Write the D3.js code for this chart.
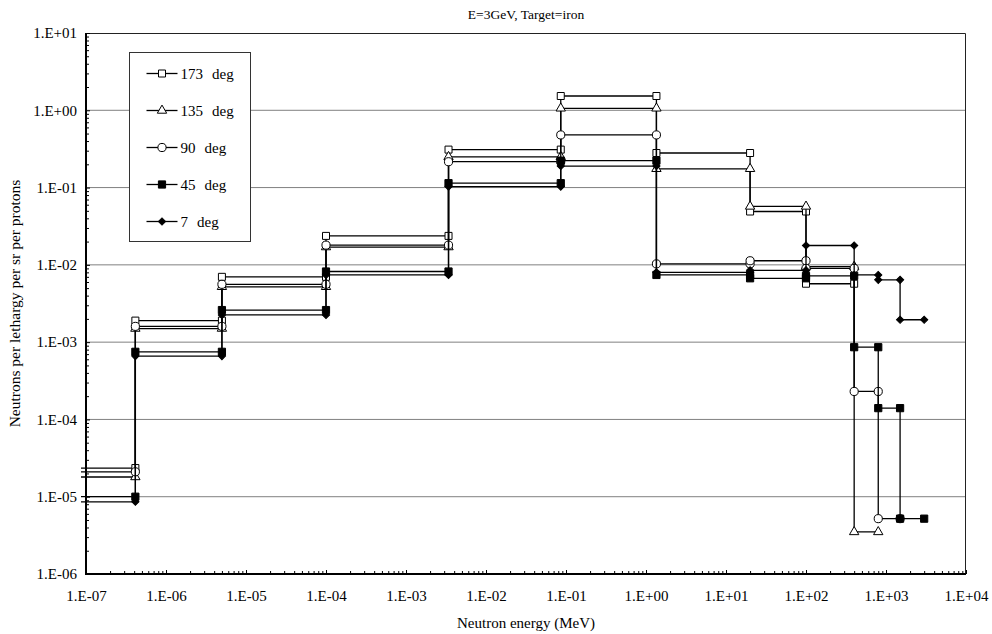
<!DOCTYPE html>
<html>
<head>
<meta charset="utf-8">
<script src="https://cdn.jsdelivr.net/npm/d3@7"></script>
<style>
  body { margin: 0; background: #fff; }
  svg text { font-family: "Liberation Serif", serif; fill: #000; }
</style>
</head>
<body>
<div class="canvas"></div>
<script>
// bin edges (MeV), first edge lies left of the axis and is clipped
const edges = [1e-8, 4.14e-7, 5e-6, 1e-4, 3.4e-3, 8.6e-2, 1.35, 20, 100, 400, 800, 1500, 3000];

// value per bin, neutrons per lethargy per sr per proton
const deg173 = [2.35e-5, 1.9e-3, 7.0e-3, 2.37e-2, 0.31, 1.53, 0.28, 0.049, 5.7e-3];
const deg135 = [1.8e-5, 1.5e-3, 5.2e-3, 1.7e-2, 0.25, 1.06, 0.175, 0.057, 9.5e-3, 3.5e-6];
const deg90 = [2.1e-5, 1.6e-3, 5.6e-3, 1.8e-2, 0.216, 0.48, 0.0103, 0.0113, 9.0e-3, 2.3e-4, 5.2e-6];
const deg45 = [1.0e-5, 7.5e-4, 2.6e-3, 8.2e-3, 0.114, 0.223, 7.4e-3, 6.7e-3, 7.2e-3, 8.6e-4, 1.4e-4, 5.2e-6];
const deg7 = [8.6e-6, 6.6e-4, 2.25e-3, 7.4e-3, 0.103, 0.19, 8.0e-3, 8.5e-3, 0.0178, 7.4e-3, 6.4e-3, 1.95e-3];

const seriesNames = ['173', '135', '90', '45', '7'];
const seriesValues = [deg173, deg135, deg90, deg45, deg7];

const xTicks = [1e-7, 1e-6, 1e-5, 1e-4, 1e-3, 1e-2, 1e-1, 1e0, 1e1, 1e2, 1e3, 1e4];
const yTicks = [1e-6, 1e-5, 1e-4, 1e-3, 1e-2, 1e-1, 1e0, 1e1];

const width = 992, height = 634;
const margin = {top: 33, right: 26, bottom: 60, left: 86};
const graphWidth = width - margin.left - margin.right;
const graphHeight = height - margin.top - margin.bottom;
const serif = '"Liberation Serif", "DejaVu Serif", serif';

const svg = d3.select('.canvas')
  .append('svg')
  .attr('width', width)
  .attr('height', height)
  .attr('font-family', serif);

const graph = svg.append('g')
  .attr('transform', `translate(${margin.left}, ${margin.top})`);

const x = d3.scaleLog().domain([1e-7, 1e4]).range([0, graphWidth]);
const y = d3.scaleLog().domain([1e-6, 1e1]).range([graphHeight, 0]);

const fmt = d => {
  const e = Math.round(Math.log10(d));
  return '1.E' + (e < 0 ? '-' : '+') + String(Math.abs(e)).padStart(2, '0');
};

const minors = dom => {
  const out = [];
  for (let e = Math.log10(dom[0]); e < Math.log10(dom[1]); e++) {
    for (let k = 2; k <= 9; k++) out.push(k * Math.pow(10, e));
  }
  return out;
};

// gridlines
graph.append('g')
  .selectAll('line')
  .data(yTicks.slice(1, -1))
  .enter().append('line')
  .attr('x1', 0).attr('x2', graphWidth)
  .attr('y1', d => y(d)).attr('y2', d => y(d))
  .attr('stroke', '#808080')
  .attr('stroke-width', 1);

// frame top / right
graph.append('path')
  .attr('d', `M0,0.5H${graphWidth - 0.5}V${graphHeight}`)
  .attr('fill', 'none')
  .attr('stroke', '#222')
  .attr('stroke-width', 1);

// series
graph.append('clipPath').attr('id', 'clip')
  .append('rect')
  .attr('x', -5).attr('y', -2)
  .attr('width', graphWidth + 5).attr('height', graphHeight + 4);

const shapes = [
  {sym: d3.symbolSquare, size: 49, fill: '#fff', rot: 0},
  {sym: d3.symbolTriangle, size: 38, fill: '#fff', rot: 0},
  {sym: d3.symbolCircle, size: 52, fill: '#fff', rot: 0},
  {sym: d3.symbolSquare, size: 52, fill: '#000', rot: 0},
  {sym: d3.symbolSquare, size: 26, fill: '#000', rot: 45}
];

const line = d3.line().x(d => x(d[0])).y(d => y(d[1]));

const plotArea = graph.append('g').attr('clip-path', 'url(#clip)');

seriesValues.forEach((vals, s) => {
  const pts = [];
  vals.forEach((v, i) => {
    pts.push([edges[i], v]);
    pts.push([edges[i + 1], v]);
  });
  const g = plotArea.append('g');
  g.append('path')
    .attr('d', line(pts))
    .attr('fill', 'none')
    .attr('stroke', '#000')
    .attr('stroke-width', 1.3);
  const sh = shapes[s];
  g.selectAll('path.m')
    .data(pts)
    .enter().append('path')
    .attr('class', 'm')
    .attr('d', d3.symbol().type(sh.sym).size(sh.size))
    .attr('transform', d => `translate(${x(d[0])},${y(d[1])}) rotate(${sh.rot})`)
    .attr('fill', sh.fill)
    .attr('stroke', '#000')
    .attr('stroke-width', 1);
});

// axes
const xAxisGroup = graph.append('g').attr('transform', `translate(0, ${graphHeight})`);
xAxisGroup.call(d3.axisTop(x).tickValues(minors(x.domain())).tickSize(3).tickFormat(''));
xAxisGroup.call(g => g.append('g').call(d3.axisTop(x).tickValues(xTicks).tickSize(4).tickFormat('')));
xAxisGroup.selectAll('.domain').remove();
xAxisGroup.selectAll('line').attr('stroke', '#000');

const xLabels = graph.append('g').attr('transform', `translate(0, ${graphHeight})`)
  .call(d3.axisBottom(x).tickValues(xTicks).tickSize(0).tickPadding(0).tickFormat(fmt));
xLabels.attr('font-family', serif).attr('font-size', 15);
xLabels.selectAll('.domain').remove();
xLabels.selectAll('text')
  .attr('y', 27).attr('dy', null);

const yAxisGroup = graph.append('g');
yAxisGroup.call(d3.axisRight(y).tickValues(minors(y.domain())).tickSize(3).tickFormat(''));
yAxisGroup.call(g => g.append('g').call(d3.axisRight(y).tickValues(yTicks).tickSize(4).tickFormat('')));
yAxisGroup.selectAll('.domain').remove();
yAxisGroup.selectAll('line').attr('stroke', '#000');

const yLabels = graph.append('g')
  .call(d3.axisLeft(y).tickValues(yTicks).tickSize(0).tickPadding(9).tickFormat(fmt));
yLabels.attr('font-family', serif).attr('font-size', 15);
yLabels.selectAll('.domain').remove();

// axis lines
graph.append('path')
  .attr('d', `M0,0V${graphHeight}H${graphWidth}`)
  .attr('fill', 'none')
  .attr('stroke', '#000')
  .attr('stroke-width', 2);

// titles
svg.append('text')
  .attr('x', margin.left + graphWidth / 2).attr('y', 19)
  .attr('text-anchor', 'middle')
  .attr('font-size', 13.5)
  .text('E=3GeV, Target=iron');

svg.append('text')
  .attr('x', margin.left + graphWidth / 2).attr('y', 628)
  .attr('text-anchor', 'middle')
  .attr('font-size', 15)
  .text('Neutron energy (MeV)');

svg.append('text')
  .attr('transform', `translate(20, ${margin.top + graphHeight / 2}) rotate(-90)`)
  .attr('text-anchor', 'middle')
  .attr('font-size', 15.5)
  .text('Neutrons per lethargy per sr per protons');

// legend
const legend = svg.append('g').attr('transform', 'translate(129.5, 52.5)');
legend.append('rect')
  .attr('width', 121).attr('height', 189)
  .attr('fill', '#fff')
  .attr('stroke', '#333')
  .attr('stroke-width', 1);

seriesNames.forEach((name, s) => {
  const row = legend.append('g').attr('transform', `translate(0, ${21 + s * 37})`);
  row.append('line')
    .attr('x1', 17).attr('x2', 48)
    .attr('stroke', '#000').attr('stroke-width', 1.3);
  const sh = shapes[s];
  row.append('path')
    .attr('d', d3.symbol().type(sh.sym).size(sh.size))
    .attr('transform', `translate(32.5,0) rotate(${sh.rot})`)
    .attr('fill', sh.fill)
    .attr('stroke', '#000');
  const t = row.append('text')
    .attr('x', 51).attr('y', 5)
    .attr('font-size', 15);
  t.append('tspan').text(name);
  t.append('tspan').attr('dx', 9).text('deg');
});
</script>
</body>
</html>
